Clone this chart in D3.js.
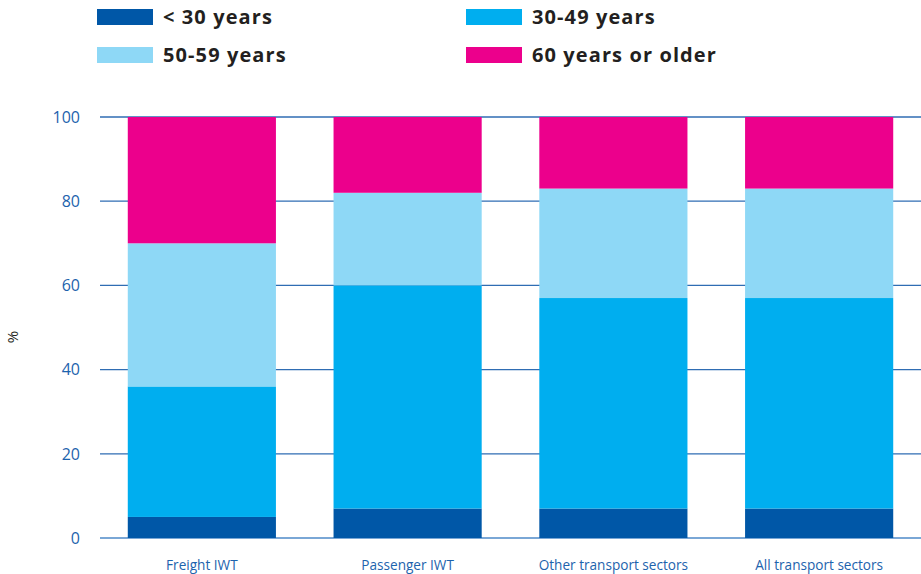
<!DOCTYPE html>
<html><head><meta charset="utf-8">
<script src="https://cdn.jsdelivr.net/npm/d3@7"></script>
<style>body{margin:0;background:#fff}</style>
</head><body>
<svg id="c" width="921" height="574"></svg>
<script>
const categories = ["Freight IWT", "Passenger IWT", "Other transport sectors", "All transport sectors"];
const seriesNames = ["< 30 years", "30-49 years", "50-59 years", "60 years or older"];
const under30 = [5, 7, 7, 7];
const age30to49 = [31, 53, 50, 50];
const age50to59 = [34, 22, 26, 26];
const over60 = [30, 18, 17, 17];
const yTicks = [0, 20, 40, 60, 80, 100];
const colors = ["#0057a7", "#00aeef", "#8ed8f6", "#ec008c"];

const svg = d3.select("#c");
const x = d3.scaleBand().domain(categories).range([100, 921]).paddingInner(0.28).paddingOuter(0.135);
const y = d3.scaleLinear().domain([0, 100]).range([538, 117]);

const rows = categories.map((c, i) => ({cat: c, s0: under30[i], s1: age30to49[i], s2: age50to59[i], s3: over60[i]}));
const stack = d3.stack().keys(["s0", "s1", "s2", "s3"])(rows);

// gridlines
svg.append("g").selectAll("line").data(yTicks).join("line")
  .attr("x1", 100).attr("x2", 921)
  .attr("y1", d => y(d)).attr("y2", d => y(d))
  .attr("stroke", d => d === 0 ? "#7aa7d6" : "#2f6db3")
  .attr("stroke-width", d => d === 0 ? 2 : 1.3);

// bars
svg.append("g").selectAll("g").data(stack).join("g")
  .attr("fill", (d, i) => colors[i])
  .selectAll("rect").data(d => d).join("rect")
  .attr("x", d => x(d.data.cat)).attr("width", x.bandwidth())
  .attr("y", d => y(d[1])).attr("height", d => y(d[0]) - y(d[1]));

// y tick labels
svg.append("g").selectAll("text").data(yTicks).join("text")
  .attr("x", 80).attr("y", d => y(d)).attr("dy", "0.36em")
  .attr("text-anchor", "end")
  .attr("font-family", "'Open Sans', sans-serif").attr("font-size", 16)
  .attr("fill", "#1d63ad").text(d => d);

// x labels
svg.append("g").selectAll("text").data(categories).join("text")
  .attr("x", d => x(d) + x.bandwidth() / 2).attr("y", 570)
  .attr("text-anchor", "middle")
  .attr("font-family", "'Open Sans', sans-serif").attr("font-size", 13.6)
  .attr("fill", "#1d63ad").text(d => d);

// y axis title
svg.append("text").attr("transform", "translate(18,337) rotate(-90)")
  .attr("text-anchor", "middle")
  .attr("font-family", "'Open Sans', sans-serif").attr("font-size", 15)
  .attr("fill", "#231f20").text("%");

// legend
const legPos = [[97, 9], [466, 9], [97, 47], [466, 47]];
const leg = svg.append("g").selectAll("g").data(seriesNames).join("g")
  .attr("transform", (d, i) => `translate(${legPos[i][0]},${legPos[i][1]})`);
leg.append("rect").attr("width", 56).attr("height", 16).attr("fill", (d, i) => colors[i]);
leg.append("text").attr("x", 66).attr("y", 8).attr("dy", "0.36em")
  .attr("font-family", "'Open Sans', sans-serif").attr("font-weight", 700).attr("font-size", 20)
  .attr("letter-spacing", 1.1)
  .attr("fill", "#231f20").text(d => d);
</script>
</body></html>
